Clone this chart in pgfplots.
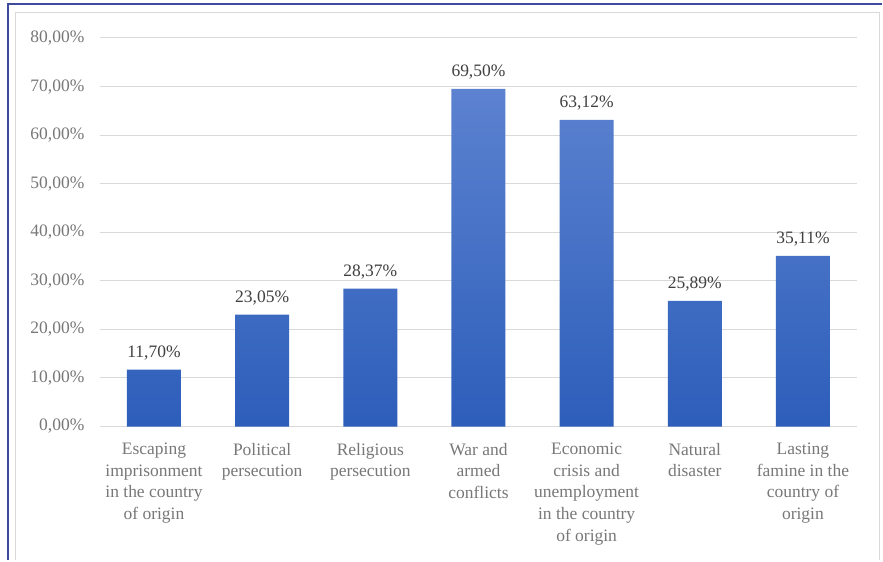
\documentclass[border=0pt]{standalone}
\usepackage{fontspec}
\setmainfont{Liberation Serif}
\usepackage{pgfplots}
\pgfplotsset{compat=1.18}
\definecolor{tickgray}{HTML}{787878}
\definecolor{labgray}{HTML}{404040}
\definecolor{gridgray}{HTML}{D9D9D9}
\definecolor{borderblue}{HTML}{3F4A9E}
\definecolor{barTop}{RGB}{92,130,208}
\definecolor{barBot}{RGB}{45,94,186}
\begin{document}
\begin{tikzpicture}
\fill[white] (0pt,0pt) rectangle (883pt,-561pt);
\draw[gridgray, line width=1pt] (16pt,-561pt) -- (16pt,-13pt) -- (880pt,-13pt) -- (880pt,-561pt);
\draw[borderblue, line width=2pt] (8.5pt,-561pt) -- (8.5pt,-4.5pt) -- (883pt,-4.5pt);
\begin{axis}[
  at={(100pt,-427pt)}, anchor=south west,
  scale only axis, width=758pt, height=389pt,
  xmin=-0.5, xmax=6.5, ymin=0, ymax=80,
  ybar, bar width=54pt,
  axis line style={draw=none},
  major tick length=0pt,
  ymajorgrids, grid style={gridgray, line width=1pt},
  ytick={0,10,...,80},
  yticklabels={{0,00\%},{10,00\%},{20,00\%},{30,00\%},{40,00\%},{50,00\%},{60,00\%},{70,00\%},{80,00\%}},
  yticklabel style={font=\fontsize{17.5}{21}\selectfont, text=tickgray, xshift=-12pt},
  xtick={0,...,6},
  xticklabels={{Escaping\\imprisonment\\in the country\\of origin},{Political\\persecution},{Religious\\persecution},{War and\\armed\\conflicts},{Economic\\crisis and\\unemployment\\in the country\\of origin},{Natural\\disaster},{Lasting\\famine in the\\country of\\origin}},
  xticklabel style={font=\fontsize{17.5}{21.7}\selectfont, text=tickgray, align=center, anchor=north, yshift=-13pt},
  point meta=explicit symbolic,
  nodes near coords,
  nodes near coords style={font=\fontsize{17.5}{21}\selectfont, text=labgray, anchor=south, yshift=6pt},
  clip=false,
]
\addplot[draw=none, top color=barTop, bottom color=barBot] coordinates {
  (0,11.70) [{11,70\%}]
  (1,23.05) [{23,05\%}]
  (2,28.37) [{28,37\%}]
  (3,69.50) [{69,50\%}]
  (4,63.12) [{63,12\%}]
  (5,25.89) [{25,89\%}]
  (6,35.11) [{35,11\%}]
};
\end{axis}
\end{tikzpicture}
\end{document}
